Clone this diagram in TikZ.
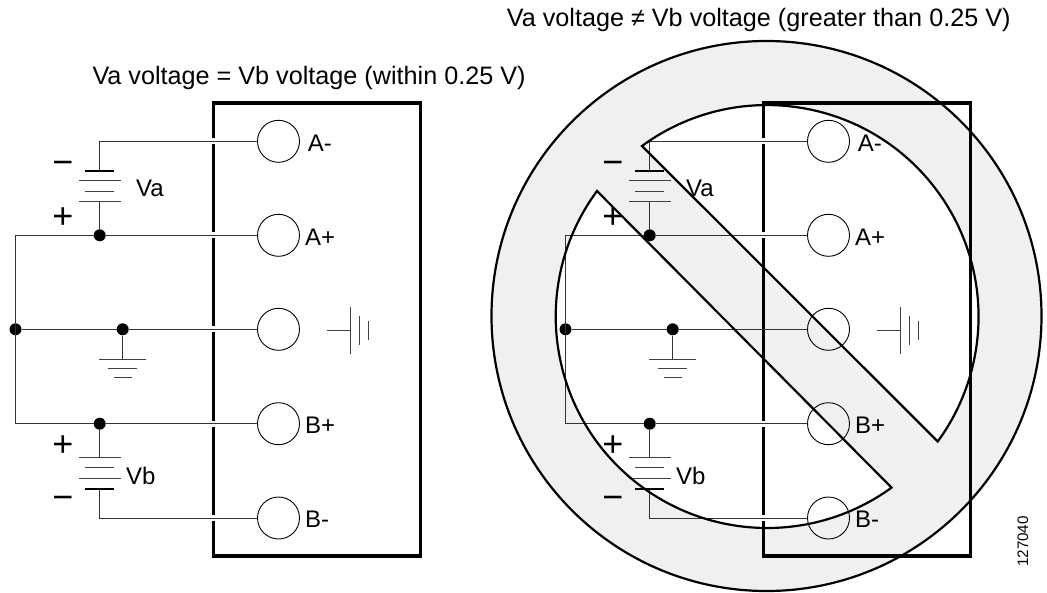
\documentclass[tikz,border=0pt]{standalone}
\usepackage{fontspec}
\setmainfont{Liberation Sans}
\definecolor{ringgray}{HTML}{F0F0F0}
\tikzset{
  x=1pt,y=-1pt,
  wire/.style={line width=1pt,line cap=butt,black!80},
  frame/.style={line width=3.2pt,line join=miter},
  port/.style={circle,draw,line width=0.9pt,minimum size=42pt,inner sep=0pt},
  dot/.style={circle,fill=black,minimum size=12pt,inner sep=0pt},
  lbl/.style={inner sep=0pt,font=\fontsize{24}{26}\selectfont,anchor=base west},
  ttl/.style={inner sep=0pt,font=\fontsize{25.2}{28}\selectfont,anchor=base west},
  sign/.style={inner sep=0pt,font=\fontsize{36}{38}\selectfont,anchor=center},
  gap/.style={white,line width=6pt},
  bigline/.style={line width=2.2pt,line join=miter},
  plate/.style={line width=1pt,black!75},
  thickplate/.style={line width=1.6pt},
}
\newcommand{\cpanel}[2]{%
\begin{scope}[xshift=#1pt,name prefix=p#1-]
  \draw[frame] (213.5,103) rectangle (420.5,556);
  \foreach \yy in {#2}
    \draw[gap] (213.5,\yy) ++(-3,0) -- ++(6,0);
  \node[port] (am) at (278.5,141.3) {};
  \node[port] (ap) at (278.5,235.3) {};
  \node[port] (gn) at (278.5,329.3) {};
  \node[port] (bp) at (278.5,423.7) {};
  \node[port] (bm) at (278.5,518) {};
  \node[lbl] (lam) at (307.7,151.7) {A-};
  \node[lbl] (lap) at (305,245.2) {A+};
  \node[lbl] (lbp) at (305,433.5) {B+};
  \node[lbl] (lbm) at (305,527.5) {B-};
  \node[dot] (d1) at (99.7,235.3) {};
  \node[dot] (d2) at (15.5,329.3) {};
  \node[dot] (d3) at (122.7,329.3) {};
  \node[dot] (d4) at (99.7,423.7) {};
  % upper battery
  \coordinate (c1) at (99.7,141.3);
  \coordinate (b1t) at (99.7,170.7);
  \coordinate (b1b) at (99.7,201.7);
  \draw[wire] (am) -- (c1) -- (b1t);
  \draw[wire] (b1b) -- (d1);
  \draw[thickplate] (85,170.7) -- (114,170.7);
  \draw[plate] (79,180.7) -- (121,180.7);
  \draw[plate] (85,191) -- (114,191);
  \draw[plate] (79,201.7) -- (121,201.7);
  \node[lbl] (va) at (136,196.7) {Va};
  \node[sign] (s1) at (63,168) {−};
  \node[sign] (s2) at (63,218.5) {+};
  % lower battery
  \coordinate (b2t) at (99.7,457.7);
  \coordinate (b2b) at (99.7,488.7);
  \coordinate (c2) at (99.7,518);
  \draw[wire] (d4) -- (b2t);
  \draw[wire] (b2b) -- (c2) -- (bm);
  \draw[plate] (79,457.7) -- (121,457.7);
  \draw[plate] (85,467.7) -- (114,467.7);
  \draw[plate] (79,478.3) -- (121,478.3);
  \draw[thickplate] (85,488.7) -- (114,488.7);
  \node[lbl] (vb) at (126,484) {Vb};
  \node[sign] (s3) at (63,446.5) {+};
  \node[sign] (s4) at (63,503) {−};
  % rails
  \coordinate (c3) at (15.5,235.3);
  \coordinate (c4) at (15.5,423.7);
  \draw[wire] (ap) -- (d1) -- (c3) -- (c4) -- (d4) -- (bp);
  \draw[wire] (d2) -- (d3) -- (gn);
  % ground on the wire
  \coordinate (g0) at (122.7,359.3);
  \draw[wire] (d3) -- (g0);
  \draw[plate] (99,359.3) -- (146,359.3);
  \draw[plate] (108,368.3) -- (137,368.3);
  \draw[plate] (113.5,377) -- (132,377);
  % ground symbol by the port
  \coordinate (h0) at (326.7,330.7);
  \coordinate (h1) at (350.7,330.7);
  \draw[plate] (h0) -- (h1);
  \draw[plate] (350.7,307) -- (350.7,354);
  \draw[plate] (359.3,316) -- (359.3,345);
  \draw[plate] (368,321) -- (368,340);
\end{scope}}
\begin{document}
\begin{tikzpicture}
  \useasboundingbox (0,0) rectangle (1047,592);
  % prohibition sign: grey ground
  \fill[ringgray] (766.5,316) circle[radius=275pt];
  \fill[white] (642,146) arc[start angle=126.25,end angle=-36.2,radius=211.5pt] -- cycle;
  \fill[white] (597,191) arc[start angle=143.6,end angle=306,radius=211.5pt] -- cycle;
  \cpanel{0}{141.3,235.3,329.3,423.7,518}
  \cpanel{550}{141.3,235.3,423.7,518}
  % prohibition sign: outlines
  \draw[bigline] (766.5,316) circle[radius=275pt];
  \draw[bigline] (642,146) arc[start angle=126.25,end angle=-36.2,radius=211.5pt] -- cycle;
  \draw[bigline] (597,191) arc[start angle=143.6,end angle=306,radius=211.5pt] -- cycle;
  \node[ttl] (t1) at (92.3,84) {Va voltage = Vb voltage (within 0.25 V)};
  \node[ttl] (t2) at (506.7,26.3) {Va voltage ≠ Vb voltage (greater than 0.25 V)};
  \node[inner sep=0pt,rotate=90,anchor=base west,font=\fontsize{15.2}{17}\selectfont] (id) at (1028,567) {127040};
\end{tikzpicture}
\end{document}
